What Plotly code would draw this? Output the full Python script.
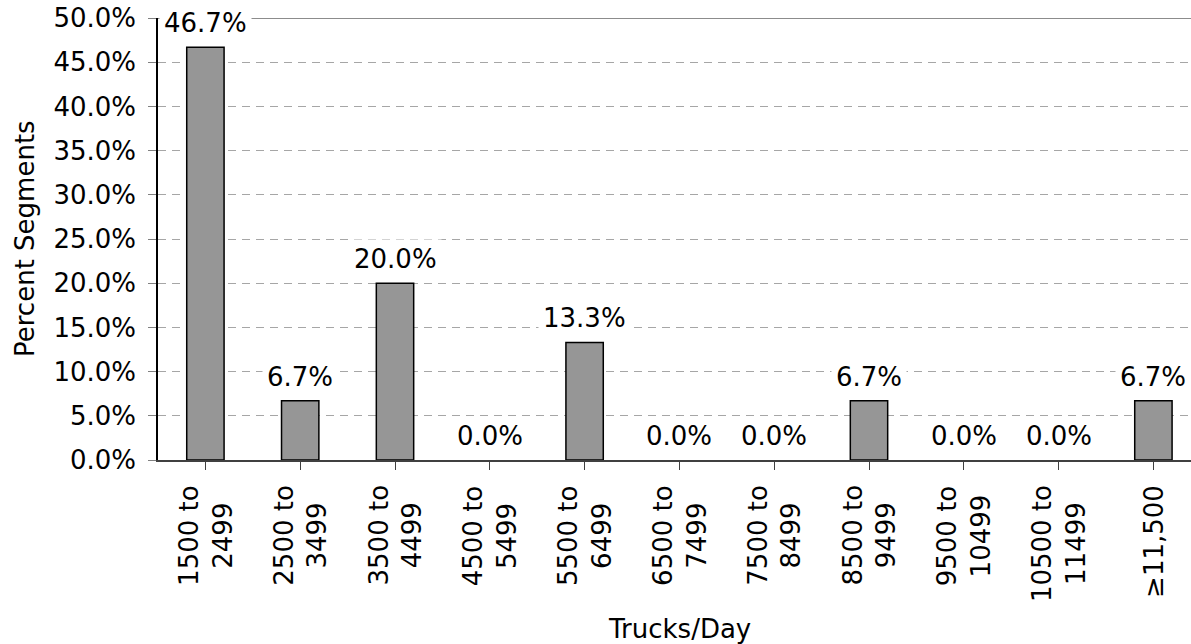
import plotly.graph_objects as go

# Truck volume bins and share of segments in each bin
categories = [
    "1500 to<br>2499", "2500 to<br>3499", "3500 to<br>4499", "4500 to<br>5499",
    "5500 to<br>6499", "6500 to<br>7499", "7500 to<br>8499", "8500 to<br>9499",
    "9500 to<br>10499", "10500 to<br>11499", "≥11,500",
]
percent_segments = [46.7, 6.7, 20.0, 0.0, 13.3, 0.0, 0.0, 6.7, 0.0, 0.0, 6.7]
y_ticks = [0, 5, 10, 15, 20, 25, 30, 35, 40, 45, 50]

FONT = "Verdana, DejaVu Sans, sans-serif"
FS = 26

fig = go.Figure()
fig.add_trace(go.Bar(
    x=list(range(len(categories))),
    y=percent_segments,
    marker=dict(
        color="#969696",
        # empty bins get no outline so nothing shows on the baseline
        line=dict(color="#000000", width=[1.5 if v > 0 else 0 for v in percent_segments]),
    ),
    width=0.394,
    hoverinfo="skip",
))

# Value labels above each bar, on a white box
for i, v in enumerate(percent_segments):
    fig.add_annotation(
        x=i, y=v, xref="x", yref="y",
        text=f"{v:.1f}%", showarrow=False,
        yanchor="middle", yshift=24,
        bgcolor="white", borderpad=4,
        font=dict(family=FONT, size=FS, color="#000000"),
    )

# Category labels, rotated, with centred lines
for i, c in enumerate(categories):
    fig.add_annotation(
        x=i, y=0, xref="x", yref="y",
        text=c, showarrow=False, textangle=-90, align="center",
        xanchor="center", yanchor="top", yshift=-23,
        font=dict(family=FONT, size=FS, color="#000000"),
    )

# Solid border line along the top of the plot area
fig.add_shape(type="line", xref="paper", yref="y", x0=0, x1=1, y0=50, y1=50,
              line=dict(color="#8c8c8c", width=2), layer="above")

# Axis titles
fig.add_annotation(
    text="Percent Segments", xref="paper", yref="paper",
    x=(25 - 158) / 1033, y=0.5, showarrow=False, textangle=-90,
    xanchor="center", yanchor="middle",
    font=dict(family=FONT, size=FS, color="#000000"),
)
fig.add_annotation(
    text="Trucks/Day", xref="paper", yref="paper",
    x=(679 - 158) / 1033, y=(460 - 629) / 442, showarrow=False,
    xanchor="center", yanchor="middle",
    font=dict(family=FONT, size=FS, color="#000000"),
)

fig.update_layout(
    width=1191, height=644,
    margin=dict(l=158, r=0, t=18, b=184),
    paper_bgcolor="white", plot_bgcolor="white",
    showlegend=False,
    font=dict(family=FONT, size=FS, color="#000000"),
    bargap=0.606,
)
fig.update_xaxes(
    range=[-0.5, -0.5 + 1033 / 94.8],
    tickmode="array", tickvals=list(range(len(categories))),
    showticklabels=False, tickson="boundaries",
    ticks="outside", ticklen=8, tickcolor="#404040", tickwidth=1,
    showline=True, linecolor="#404040", linewidth=1.5,
    showgrid=False, zeroline=False,
)
fig.update_yaxes(
    range=[0, 50],
    tickmode="array", tickvals=y_ticks, ticktext=[f"{t:.1f}%" for t in y_ticks],
    ticks="outside", ticklen=8, tickcolor="#808080", tickwidth=1,
    ticklabelstandoff=7,
    showline=True, linecolor="#000000", linewidth=1.5,
    showgrid=True, gridcolor="#a6a6a6", gridwidth=1, griddash="8px,6px",
    zeroline=False,
    tickfont=dict(family=FONT, size=FS, color="#000000"),
)

fig.write_html("out.html")
